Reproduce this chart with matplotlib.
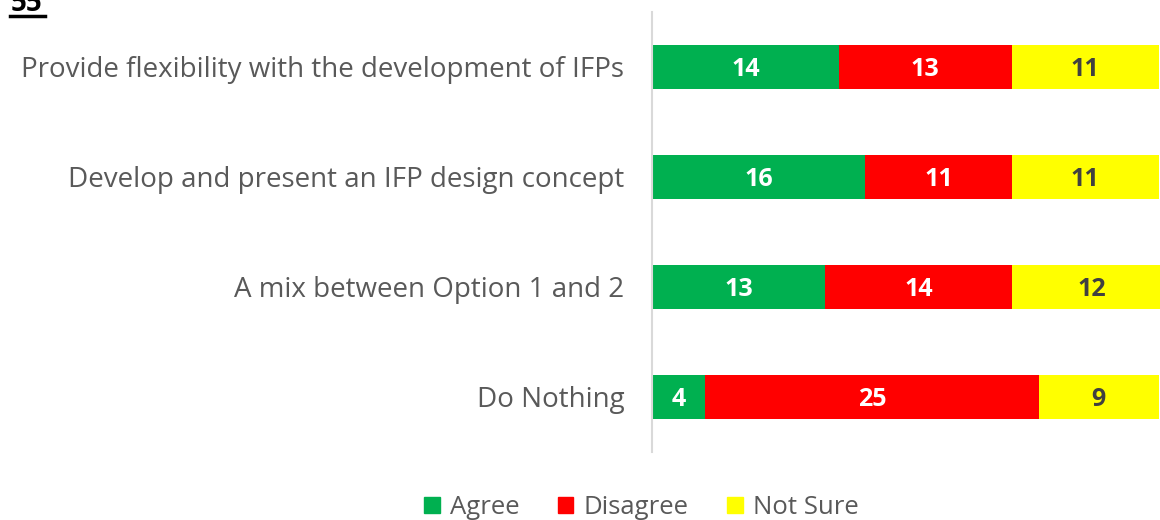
import matplotlib.pyplot as plt
from matplotlib.lines import Line2D
from matplotlib.patches import Patch

categories = ['Provide flexibility with the development of IFPs',
              'Develop and present an IFP design concept',
              'A mix between Option 1 and 2',
              'Do Nothing']
agree = [14, 16, 13, 4]
disagree = [13, 11, 14, 25]
not_sure = [11, 11, 12, 9]

series = [('Agree', agree, '#00B050', 'white'),
          ('Disagree', disagree, '#FF0000', 'white'),
          ('Not Sure', not_sure, '#FFFF00', '#404040')]

plt.rcParams['font.family'] = ['Open Sans', 'DejaVu Sans']

fig = plt.figure(figsize=(11.6, 5.2), dpi=100)
ax = fig.add_axes([652 / 1160, 1 - 452 / 520, 508 / 1160, 440 / 520])

y = list(range(len(categories)))
left = [0] * len(categories)
for name, vals, color, tcolor in series:
    ax.barh(y, vals, left=left, height=0.4, color=color, label=name)
    for yi, l, v in zip(y, left, vals):
        ax.text(l + v / 2, yi + 0.02, str(v), ha='center', va='center',
                color=tcolor, fontsize=18, fontweight='bold', clip_on=True)
    left = [a + b for a, b in zip(left, vals)]

ax.set_xlim(0, 38.1)
ax.set_ylim(3.5, -0.5)
ax.set_yticks(y)
ax.set_yticklabels(categories, fontsize=20, color='#595959')
ax.tick_params(axis='y', length=0, pad=20)
ax.set_xticks([])
for s in ['top', 'right', 'bottom']:
    ax.spines[s].set_visible(False)
ax.spines['left'].set_color('#D9D9D9')
ax.spines['left'].set_linewidth(1.5)

handles = [Patch(color=c, label=n) for n, _, c, _ in series]
fig.legend(handles=handles, loc='lower center', bbox_to_anchor=(0.553, -0.045),
           ncol=3, frameon=False, fontsize=18.5, labelcolor='#595959',
           handlelength=0.6, handleheight=0.6, handletextpad=0.4,
           columnspacing=1.5)

fig.text(0.009, 1 - 11 / 520, '55', fontsize=20, fontweight='bold',
         va='baseline', ha='left', color='black')
fig.add_artist(Line2D([0.009, 0.039], [1 - 16 / 520, 1 - 16 / 520],
                      color='black', linewidth=2.5))

fig.savefig('out.png', dpi=100)
